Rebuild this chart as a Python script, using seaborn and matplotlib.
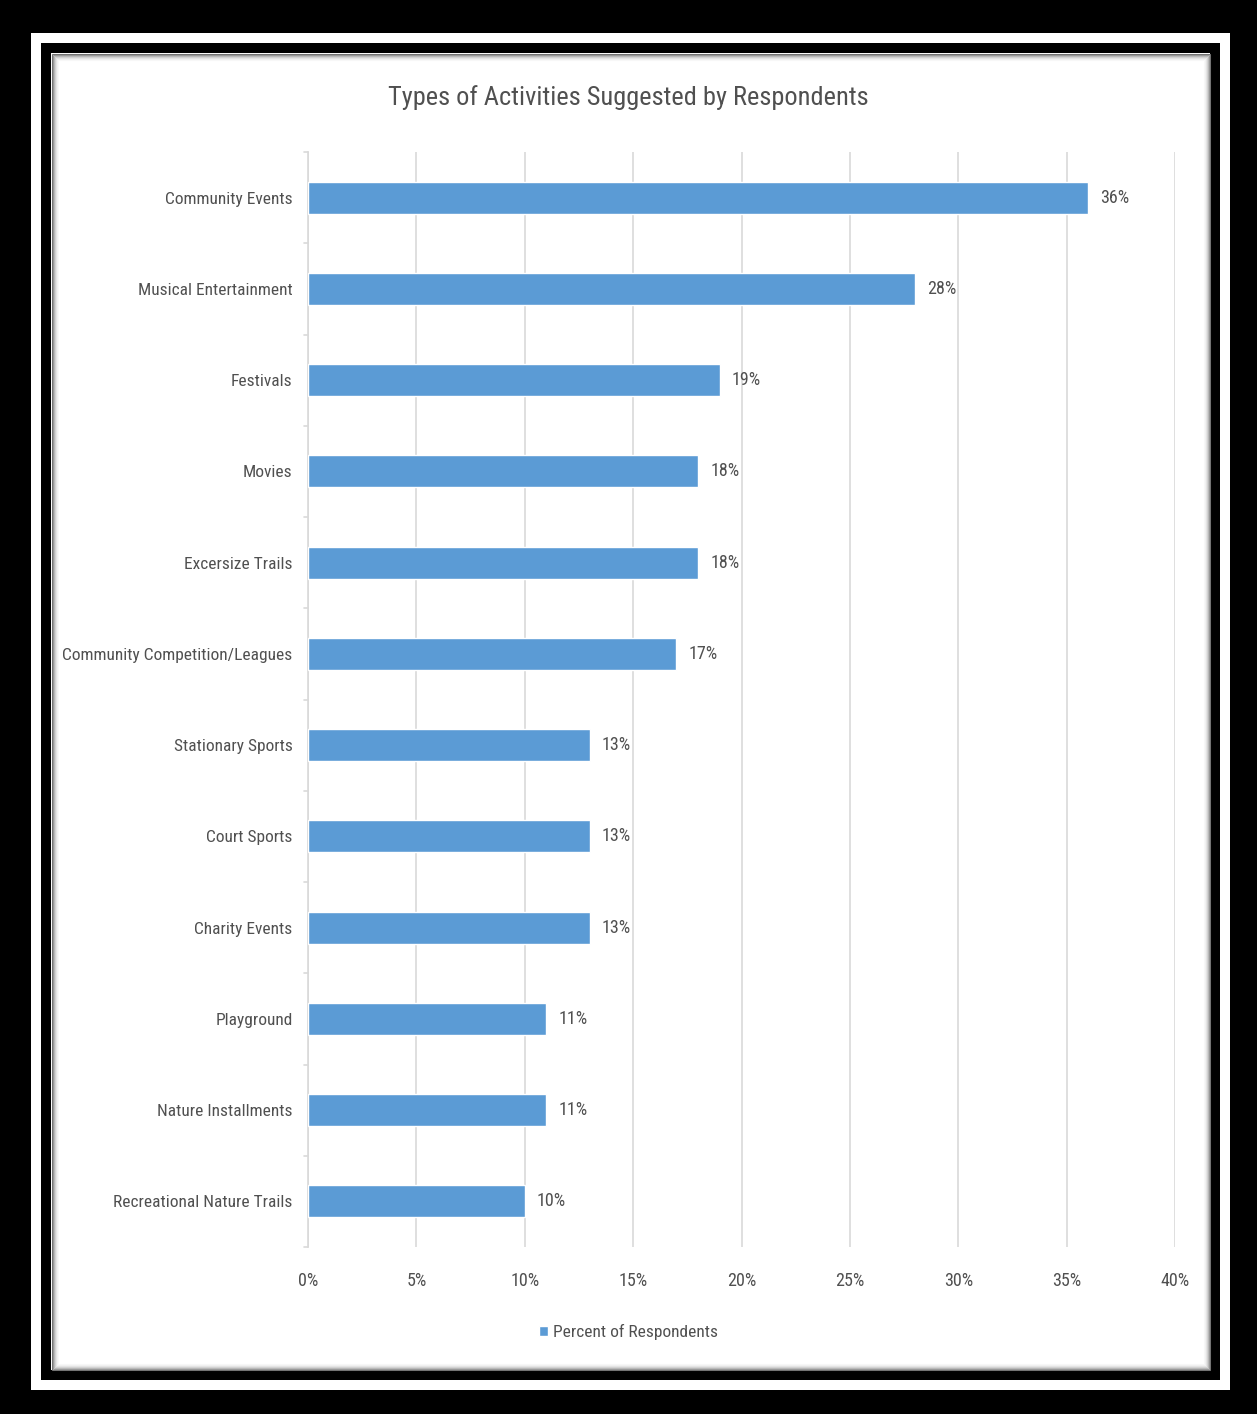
import matplotlib
matplotlib.use("Agg")
import matplotlib.pyplot as plt
from matplotlib.patches import Rectangle
from matplotlib.font_manager import fontManager
import seaborn as sns
import pandas as pd

activities = [
    "Community Events",
    "Musical Entertainment",
    "Festivals",
    "Movies",
    "Excersize Trails",
    "Community Competition/Leagues",
    "Stationary Sports",
    "Court Sports",
    "Charity Events",
    "Playground",
    "Nature Installments",
    "Recreational Nature Trails",
]
percent = [36, 28, 19, 18, 18, 17, 13, 13, 13, 11, 11, 10]
x_ticks = [0, 5, 10, 15, 20, 25, 30, 35, 40]
series_name = "Percent of Respondents"
chart_title = "Types of Activities Suggested by Respondents"

df = pd.DataFrame({"Activity": activities, series_name: percent})

sns.set_theme(style="white")
names = {f.name for f in fontManager.ttflist}
primary = "DejaVu Sans"
for cand in ["Liberation Sans Narrow", "Roboto Condensed", "Open Sans Condensed",
             "DejaVu Sans Condensed", "Lato"]:
    if cand in names:
        primary = cand
        break
plt.rcParams["font.family"] = [primary, "DejaVu Sans"]

TEXT = "#505050"
BAR = "#5B9BD5"
GRID = "#D9D9D9"

W, H = 1257, 1414
fig = plt.figure(figsize=(W / 100, H / 100), dpi=100)
fig.patch.set_facecolor("black")

# background layer holding the double frame
bg = fig.add_axes([0, 0, 1, 1], zorder=0)
bg.set_xlim(0, W)
bg.set_ylim(H, 0)
bg.axis("off")


def frect(x0, y0, x1, y1, **kw):
    bg.add_patch(Rectangle((x0, y0), x1 - x0, y1 - y0, **kw))


frect(31, 33, 1230, 1390, facecolor="white", edgecolor="none")
frect(41, 43, 1220, 1380, facecolor="black", edgecolor="none")
frect(51, 53, 1210, 1370, facecolor="white", edgecolor="none")
# soft inner shadow along the panel edge
for i, g in enumerate([0.45, 0.6, 0.72, 0.82, 0.89, 0.94, 0.97]):
    bg.add_patch(Rectangle((51 + i + 0.5, 53 + i + 0.5), 1210 - 51 - 2 * i - 1,
                           1370 - 53 - 2 * i - 1, facecolor="none",
                           edgecolor=(g, g, g), linewidth=0.75))

ax = fig.add_axes([308 / W, 1 - 1247 / H, (1175 - 308) / W, (1247 - 152) / H], zorder=2)
ax.set_facecolor("none")

sns.barplot(data=df, y="Activity", x=series_name, orient="h", color=BAR,
            width=0.35, saturation=1, ax=ax, zorder=3, label=series_name)

ax.set_xlim(0, 40)
ax.set_ylim(len(activities) - 0.5, -0.5)
ax.set_xticks(x_ticks)
ax.set_xticklabels([f"{t}%" for t in x_ticks], fontsize=13, color=TEXT)
ax.tick_params(axis="x", length=0, pad=18)
ax.set_yticks(range(len(activities)))
ax.set_yticklabels(activities, fontsize=12.5, color=TEXT)
ax.tick_params(axis="y", length=0, pad=11)
ax.set_xlabel("")
ax.set_ylabel("")
ax.xaxis.grid(True, color=GRID, linewidth=1.2, zorder=0)
ax.set_axisbelow(True)
for s in ["top", "right", "bottom"]:
    ax.spines[s].set_visible(False)
ax.spines["left"].set_color(GRID)
ax.spines["left"].set_linewidth(1.2)

# category boundary ticks on the value axis line
for b in [i - 0.5 for i in range(len(activities) + 1)]:
    ax.plot([-0.2, 0], [b, b], color=GRID, linewidth=1.2, clip_on=False, zorder=2)

for i, v in enumerate(percent):
    ax.text(v + 0.55, i, f"{v}%", va="center", ha="left", fontsize=13, color=TEXT)

fig.text(0.5, 1 - 98 / H, chart_title, ha="center", va="center", fontsize=19,
         color=TEXT, zorder=3)

leg = ax.legend(loc="center", bbox_to_anchor=(0.5, 1 - 1332 / H), bbox_transform=fig.transFigure,
                frameon=False, fontsize=12.5, handlelength=0.5, handleheight=0.5,
                handletextpad=0.3, labelcolor=TEXT)

fig.savefig("out.png", dpi=100, facecolor=fig.get_facecolor())
